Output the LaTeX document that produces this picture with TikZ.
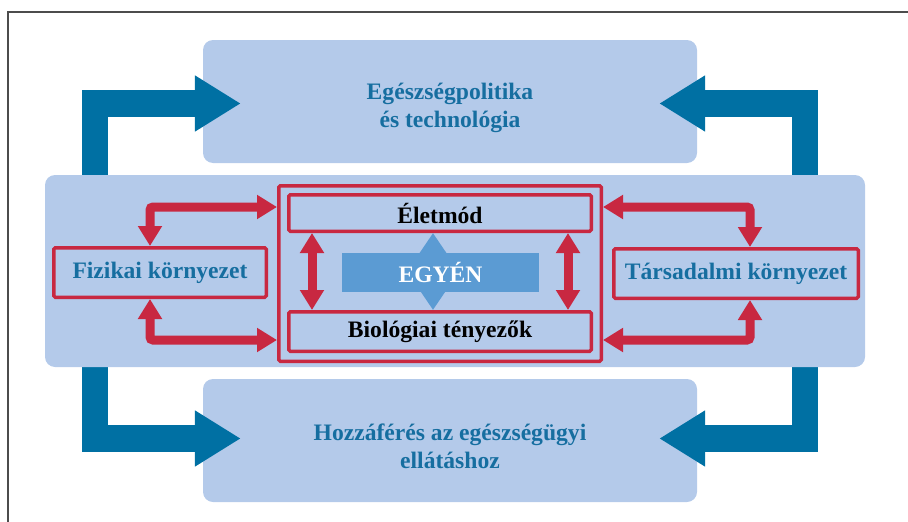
\documentclass[tikz,border=0pt]{standalone}
\usepackage{fontspec}
\setmainfont{Liberation Serif}
\usetikzlibrary{arrows.meta}
\definecolor{boxblue}{RGB}{180,202,234}
\definecolor{darkblue}{RGB}{0,112,163}
\definecolor{midblue}{RGB}{91,155,211}
\definecolor{linkred}{RGB}{200,40,65}
\definecolor{textblue}{RGB}{22,110,160}
\tikzset{
  panel/.style={fill=boxblue, rounded corners=10pt, inner sep=0pt},
  caption/.style={text=textblue, align=center, inner sep=0pt, font=\bfseries\fontsize{23.6}{28}\selectfont},
  factor/.style={draw=linkred, line width=3.5pt, rounded corners=1.5pt, inner sep=0pt, font=\bfseries\fontsize{23.6}{28}\selectfont},
  bigarrow/.style={draw=darkblue, line width=26.5pt, -{Triangle[width=53pt,length=46pt]}},
  link/.style={draw=linkred, line width=9pt, rounded corners=3pt, {Triangle[width=23pt,length=20pt]}-{Triangle[width=23pt,length=20pt]}},
  midarrow/.style={draw=midblue, line width=10pt, {Triangle[width=28pt,length=22pt]}-{Triangle[width=28pt,length=22pt]}},
}

\begin{document}
\begin{tikzpicture}[x=1pt, y=-1pt]
    \useasboundingbox (0,0) rectangle (908,522);
    \clip (0,0) rectangle (908,522);
    \draw[line width=1.4pt, black!70] (8,540) |- (930,12);

    \node(pol) [panel, minimum width=494pt, minimum height=123pt] at (450,101.5) {};
    \node(acc) [panel, minimum width=494pt, minimum height=123pt] at (450,440.5) {};
    \node(polt) [caption] at ([yshift=-6pt]pol.center) {Egészségpolitika\\és technológia};
    \node(acct) [caption] at ([yshift=-5.5pt]acc.center) {Hozzáférés az egészségügyi\\ellátáshoz};

    \draw[bigarrow] (95,200) |- ([xshift=38pt,yshift=-2pt]pol.west);
    \draw[bigarrow] (805,200) |- ([xshift=-38pt,yshift=-2pt]pol.east);
    \draw[bigarrow] (95,340) |- ([xshift=38pt,yshift=2pt]acc.west);
    \draw[bigarrow] (805,340) |- ([xshift=-38pt,yshift=2pt]acc.east);

    \node(mid) [panel, minimum width=820pt, minimum height=192pt] at (455,271) {};

    \node(core) [factor, minimum width=322.5pt, minimum height=175.5pt] at (440,273.5) {};
    \node(life) [factor, minimum width=302.5pt, minimum height=36.5pt] at (440,213) {Életmód};
    \node(bio) [factor, minimum width=302.5pt, minimum height=39.5pt] at (440,331.5) {Biológiai tényezők};
    \node(fiz) [factor, text=textblue, minimum width=212.5pt, minimum height=49.5pt] at (160,272.5) {Fizikai környezet};
    \node(tars) [factor, text=textblue, minimum width=244.5pt, minimum height=49.5pt] at (736,273.5) {Társadalmi környezet};

    \draw[midarrow] ([xshift=-7pt]life.south) -- ([xshift=-7pt]bio.north);
    \node(egyen) [fill=midblue, text=white, inner sep=0pt, minimum width=197pt, minimum height=39pt,
      font=\bfseries\fontsize{23.6}{28}\selectfont] at (440.5,272.5) {EGYÉN};

    \draw[link] ([xshift=-10pt]fiz.north) |- ([yshift=66.5pt]core.west);
    \draw[link] ([xshift=-10pt]fiz.south) |- ([yshift=-66.5pt]core.west);
    \draw[link] ([xshift=14pt]tars.north) |- ([yshift=66.5pt]core.east);
    \draw[link] ([xshift=14pt]tars.south) |- ([yshift=-66.5pt]core.east);
    \draw[link] ([xshift=25pt]life.south west) -- ([xshift=25pt]bio.north west);
    \draw[link] ([xshift=-25pt]life.south east) -- ([xshift=-25pt]bio.north east);
\end{tikzpicture}
\end{document}
